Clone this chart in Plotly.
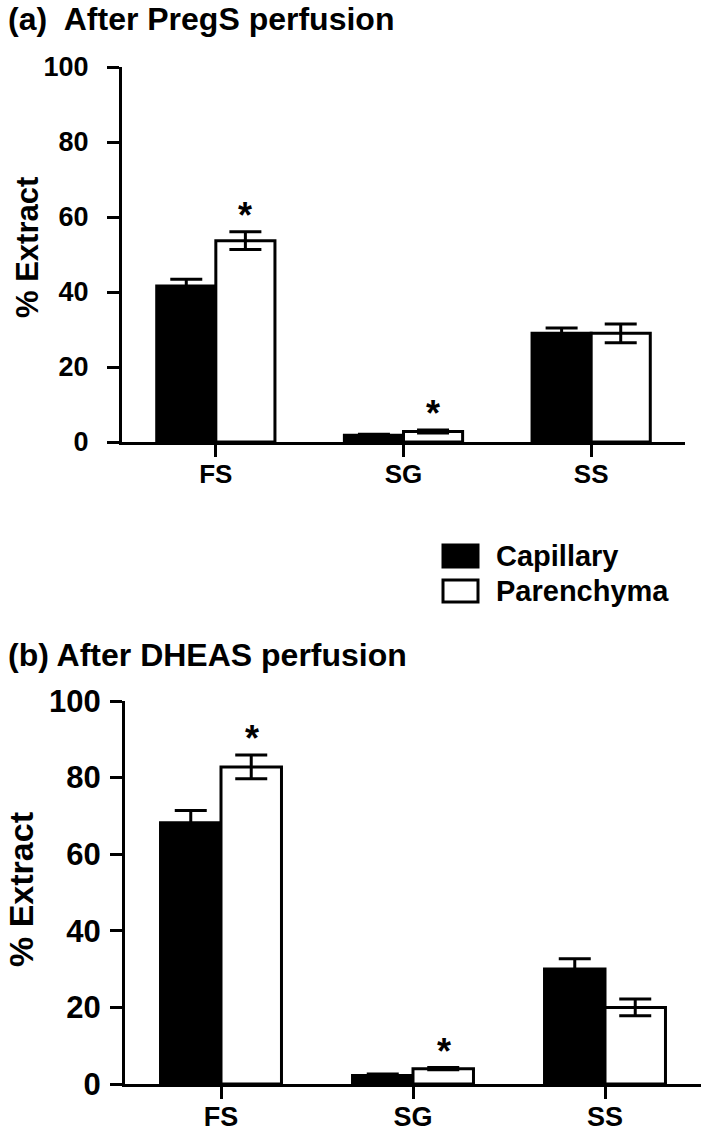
import plotly.graph_objects as go

W, H = 709, 1132

categories = ["FS", "SG", "SS"]
series_names = ["Capillary", "Parenchyma"]

# Panel (a): After PregS perfusion
a_capillary = [41.6, 1.8, 29.0]
a_capillary_err = [1.8, 0.3, 1.4]
a_parenchyma = [53.7, 2.8, 29.0]
a_parenchyma_err = [2.4, 0.4, 2.5]
a_signif = [True, True, False]

# Panel (b): After DHEAS perfusion
b_capillary = [68.2, 2.2, 30.0]
b_capillary_err = [3.2, 0.4, 2.7]
b_parenchyma = [82.8, 4.0, 20.0]
b_parenchyma_err = [3.1, 0.3, 2.2]
b_signif = [True, True, False]

y_ticks = [0, 20, 40, 60, 80, 100]
y_title = "% Extract"

FONT = "Liberation Sans, Arial, sans-serif"


def px(x):
    return x / W


def py(y):
    return 1 - y / H


fig = go.Figure()

panels = [
    ("x", "y", a_capillary, a_capillary_err, a_parenchyma, a_parenchyma_err, a_signif),
    ("x2", "y2", b_capillary, b_capillary_err, b_parenchyma, b_parenchyma_err, b_signif),
]

for i, (xa, ya, cap, cap_e, par, par_e, sig) in enumerate(panels):
    fig.add_trace(go.Bar(
        x=categories, y=cap, name=series_names[0], xaxis=xa, yaxis=ya,
        marker=dict(color="black", line=dict(color="black", width=3)),
        error_y=dict(type="data", array=cap_e, visible=True, color="black",
                     thickness=3, width=16),
        offsetgroup="cap", showlegend=False, hoverinfo="skip",
    ))
    fig.add_trace(go.Bar(
        x=categories, y=par, name=series_names[1], xaxis=xa, yaxis=ya,
        marker=dict(color="white", line=dict(color="black", width=3)),
        error_y=dict(type="data", array=par_e, visible=True, color="black",
                     thickness=3, width=16),
        offsetgroup="par", showlegend=False, hoverinfo="skip",
    ))
    bw = 58 if i == 0 else 61
    for c, v, e, s in zip(categories, par, par_e, sig):
        if s:
            fig.add_annotation(
                x=c, y=v + e, xref=xa, yref=ya, text="<b>*</b>", showarrow=False,
                xshift=bw / 2, yanchor="bottom", yshift=-6,
                font=dict(family=FONT, size=36, color="black"),
            )

axis_common = dict(
    showline=True, linecolor="black", linewidth=3,
    ticks="outside", tickcolor="black", tickwidth=3, ticklen=12,
    showgrid=False, zeroline=False, automargin=False,
)

fig.update_layout(
    width=W, height=H,
    margin=dict(l=0, r=0, t=0, b=0, autoexpand=False),
    paper_bgcolor="white", plot_bgcolor="white",
    barmode="group", bargap=0.37, bargroupgap=0,
    showlegend=False,
    xaxis=dict(domain=[px(122), px(685)], anchor="y", range=[-0.5, 2.5],
               tickfont=dict(family=FONT, size=26, color="black", weight="bold"),
               ticklabelstandoff=-5, **axis_common),
    yaxis=dict(domain=[py(442), py(67)], anchor="x", range=[0, 100],
               tickvals=y_ticks,
               tickfont=dict(family=FONT, size=27, color="black", weight="bold"),
               ticklabelstandoff=13, **axis_common),
    xaxis2=dict(domain=[px(125), px(701)], anchor="y2", range=[-0.5, 2.5],
                tickfont=dict(family=FONT, size=27, color="black", weight="bold"),
                ticklabelstandoff=-5, **axis_common),
    yaxis2=dict(domain=[py(1084), py(701)], anchor="x2", range=[0, 100],
                tickvals=y_ticks,
                tickfont=dict(family=FONT, size=31, color="black", weight="bold"),
                ticklabelstandoff=3, **axis_common),
)

# Y-axis titles (rotated annotations)
fig.add_annotation(x=px(27), y=py(248), xref="paper", yref="paper", text=y_title,
                   textangle=-90, showarrow=False, xanchor="center", yanchor="middle",
                   font=dict(family=FONT, size=31, color="black", weight="bold"))
fig.add_annotation(x=px(21), y=py(890), xref="paper", yref="paper", text=y_title,
                   textangle=-90, showarrow=False, xanchor="center", yanchor="middle",
                   font=dict(family=FONT, size=34, color="black", weight="bold"))

# Panel titles
fig.add_annotation(x=px(6), y=py(19), xref="paper", yref="paper", xanchor="left",
                   yanchor="middle", showarrow=False,
                   text="(a)  After PregS perfusion",
                   font=dict(family=FONT, size=32, color="black", weight="bold"))
fig.add_annotation(x=px(6), y=py(655), xref="paper", yref="paper", xanchor="left",
                   yanchor="middle", showarrow=False,
                   text="(b) After DHEAS perfusion",
                   font=dict(family=FONT, size=32, color="black", weight="bold"))

# Legend (drawn manually)
legend_rows = [(series_names[0], "black", 545), (series_names[1], "white", 580)]
for name, fill, top in legend_rows:
    fig.add_shape(type="rect", xref="paper", yref="paper",
                  x0=px(443), x1=px(478), y0=py(top + 22), y1=py(top),
                  fillcolor=fill, line=dict(color="black", width=3))
    fig.add_annotation(x=px(494), y=py(top + 11), xref="paper", yref="paper",
                       xanchor="left", yanchor="middle", showarrow=False, text=name,
                       font=dict(family=FONT, size=29, color="black", weight="bold"))

fig.write_html("out.html", config={"displayModeBar": False, "staticPlot": True},
               post_script="document.body.style.margin='0';document.body.style.overflow='hidden';")
